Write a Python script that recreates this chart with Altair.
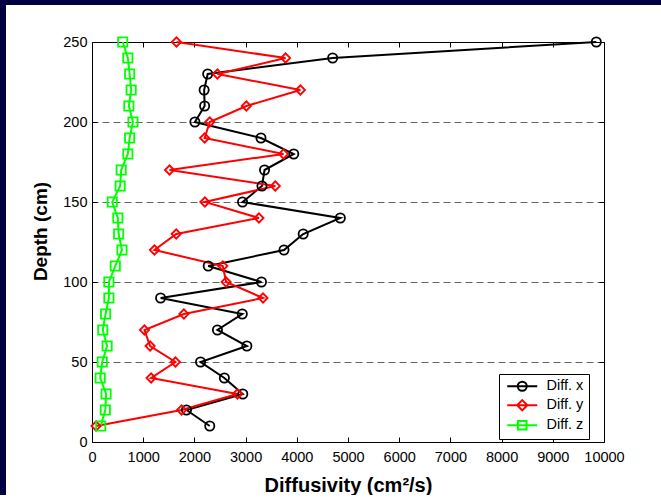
import altair as alt
import pandas as pd

# ---- data ----
depth = [250, 240, 230, 220, 210, 200, 190, 180, 170, 160, 150, 140, 130,
         120, 110, 100, 90, 80, 70, 60, 50, 40, 30, 20, 10]
diff_x = [9850, 4700, 2260, 2190, 2200, 2010, 3300, 3940, 3370, 3320, 2940, 4850, 4125,
          3750, 2270, 3310, 1340, 2935, 2450, 3025, 2120, 2585, 2945, 1845, 2300]
diff_y = [1650, 3780, 2450, 4070, 3015, 2300, 2200, 3740, 1515, 3580, 2205, 3260, 1645,
          1220, 2555, 2620, 3340, 1795, 1025, 1135, 1630, 1155, 2840, 1750, 80]
diff_z = [600, 700, 735, 765, 720, 800, 735, 700, 570, 550, 395, 505, 520,
          585, 455, 330, 330, 265, 210, 295, 200, 160, 275, 260, 170]

series_names = ["Diff. x", "Diff. y", "Diff. z"]
series_colors = ["#000000", "#ff0000", "#00ff00"]
series_shapes = ["circle", "diamond", "square"]
legend_paths = [
    "M-2.5,0L2.5,0M-0.75,0A0.75,0.75,0,1,0,0.75,0A0.75,0.75,0,1,0,-0.75,0",
    "M-2.5,0L2.5,0M0,-0.85L0.85,0L0,0.85L-0.85,0Z",
    "M-2.5,0L2.5,0M-0.72,-0.72L0.72,-0.72L0.72,0.72L-0.72,0.72Z",
]
x_ticks = [0, 1000, 2000, 3000, 4000, 5000, 6000, 7000, 8000, 9000, 10000]
y_ticks = [0, 50, 100, 150, 200, 250]
grid_values = [50, 100, 150, 200]

rows = []
for name, vals in zip(series_names, [diff_x, diff_y, diff_z]):
    for d, v in zip(depth, vals):
        rows.append({"series": name, "depth": d, "value": v})
df = pd.DataFrame(rows)

FONT = "Liberation Sans"
NAVY = "#000040"

xs = alt.Scale(domain=[0, 10000], nice=False, zero=False)
ys = alt.Scale(domain=[0, 250], nice=False, zero=False)
cs = alt.Scale(domain=series_names, range=series_colors)


def tick_axis(orient, values):
    return alt.Axis(orient=orient, values=values, labels=False, domain=False,
                    grid=False, ticks=True, tickSize=5, tickColor="black",
                    tickWidth=1, offset=-5, title=None)


main_x_axis = alt.Axis(
    orient="bottom", values=x_ticks, format="d", ticks=False, tickSize=0,
    labelPadding=8.5, labelFontSize=14.5, labelFont=FONT, labelColor="black",
    labelFlush=False, labelOverlap=False, labelBound=False,
    domain=True, domainColor="black", domainWidth=1, grid=False,
    title="Diffusivity (cm²/s)", titleFont=FONT, titleFontSize=20,
    titleFontWeight="bold", titleColor="black", titlePadding=11,
)
main_y_axis = alt.Axis(
    orient="left", values=y_ticks, format="d", ticks=False, tickSize=0,
    labelPadding=5, labelFontSize=14.5, labelFont=FONT, labelColor="black",
    labelFlush=False, labelOverlap=False, labelBound=False,
    domain=True, domainColor="black", domainWidth=1, grid=False,
    title="Depth (cm)", titleFont=FONT, titleFontSize=19,
    titleFontWeight="bold", titleColor="black", titlePadding=12, titleY=189,
)

legend_kw = dict(
    orient="none", legendX=407, legendY=332, title=None,
    fillColor="white", strokeColor="black", padding=5,
    symbolSize=144, symbolStrokeWidth=2, symbolOffset=11, labelOffset=17,
    labelFontSize=14.5, labelFont=FONT, labelColor="black", rowPadding=1,
)

base = alt.Chart(df)

# navy slide frame strips (decoration)
strip_src = pd.DataFrame({"k": [0]})
strip_top = alt.Chart(strip_src).mark_rect(color=NAVY).encode(
    x=alt.value(-92), x2=alt.value(569), y=alt.value(-42), y2=alt.value(-37))
strip_left = alt.Chart(strip_src).mark_rect(color=NAVY).encode(
    x=alt.value(-92), x2=alt.value(-86), y=alt.value(-42), y2=alt.value(453))

frame_layer = base.transform_filter("false").mark_point().encode(
    x=alt.X("value:Q", scale=xs, axis=alt.Axis(
        orient="top", domain=True, domainColor="black", domainWidth=1,
        ticks=False, labels=False, grid=False, title=None)),
    y=alt.Y("depth:Q", scale=ys, axis=alt.Axis(
        orient="right", values=grid_values, domain=True, domainColor="black",
        domainWidth=1, ticks=False, labels=False, grid=True, gridDash=[7, 4],
        gridColor="#666666", gridWidth=1, gridOpacity=1, title=None)),
)

lines = base.mark_line(strokeWidth=2).encode(
    x=alt.X("value:Q", scale=xs, axis=main_x_axis),
    y=alt.Y("depth:Q", scale=ys, axis=main_y_axis),
    color=alt.Color("series:N", scale=cs, legend=None),
    order=alt.Order("depth:Q"),
)

points = base.mark_point(filled=False, size=85, strokeWidth=1.8, opacity=1).encode(
    x=alt.X("value:Q", scale=xs, axis=tick_axis("bottom", x_ticks)),
    y=alt.Y("depth:Q", scale=ys, axis=tick_axis("left", y_ticks)),
    color=alt.Color("series:N", scale=cs, legend=None),
    shape=alt.Shape("series:N", scale=alt.Scale(domain=series_names, range=series_shapes),
                    legend=None),
)

legend_layer = base.transform_filter("false").mark_point(
    filled=False, strokeWidth=2, opacity=1).encode(
    x=alt.X("value:Q", scale=xs, axis=tick_axis("top", x_ticks)),
    y=alt.Y("depth:Q", scale=ys, axis=tick_axis("right", y_ticks)),
    color=alt.Color("series:N", scale=cs, legend=alt.Legend(**legend_kw)),
    shape=alt.Shape("series:N", scale=alt.Scale(domain=series_names, range=legend_paths),
                    legend=alt.Legend(**legend_kw)),
)

chart = alt.layer(
    strip_top, strip_left, frame_layer, lines, points, legend_layer
).resolve_axis(
    x="independent", y="independent"
).resolve_scale(
    color="independent", shape="independent"
).properties(
    width=512, height=400,
    autosize=alt.AutoSizeParams(type="none"),
    padding={"left": 92, "top": 42, "right": 57, "bottom": 53},
    background="white",
).configure_view(stroke=None)

chart.save("out.html", embed_options={"renderer": "svg", "actions": False})
